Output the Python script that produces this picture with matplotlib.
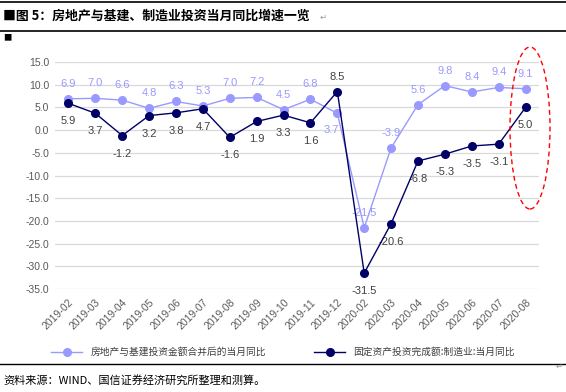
import numpy as np
import matplotlib as mpl
import matplotlib.pyplot as plt
from matplotlib.lines import Line2D
from matplotlib.patches import Ellipse

# 数据
months = ['2019-02', '2019-03', '2019-04', '2019-05', '2019-06', '2019-07', '2019-08', '2019-09',
          '2019-10', '2019-11', '2019-12', '2020-02', '2020-03', '2020-04', '2020-05', '2020-06',
          '2020-07', '2020-08']
realty_infra = [6.9, 7.0, 6.6, 4.8, 6.3, 5.3, 7.0, 7.2, 4.5, 6.8, 3.7, -21.5, -3.9, 5.6, 9.8, 8.4, 9.4, 9.1]
manufacturing = [5.9, 3.7, -1.2, 3.2, 3.8, 4.7, -1.6, 1.9, 3.3, 1.6, 8.5, -31.5, -20.6, -6.8, -5.3, -3.5, -3.1, 5.0]

name1 = '房地产与基建投资金额合并后的当月同比'
name2 = '固定资产投资完成额:制造业:当月同比'

light = '#9999ff'
dark = '#000066'

mpl.rcParams['font.family'] = ['Liberation Sans', 'Noto Sans CJK SC', 'DejaVu Sans']
cjk = ['Noto Sans CJK SC', 'DejaVu Sans']

W, H = 566, 392
fig = plt.figure(figsize=(W / 100, H / 100), dpi=100)

# 绘图区 (像素)
left, right, top, bottom = 55, 539, 62, 289
ax = fig.add_axes([left / W, 1 - bottom / H, (right - left) / W, (bottom - top) / H])

x = np.arange(len(months))
ax.plot(x, realty_infra, '-o', color=light, lw=1.0, ms=5.5, label=name1, zorder=3)
ax.plot(x, manufacturing, '-o', color=dark, lw=1.0, ms=5.5, label=name2, zorder=4)

ax.set_xlim(-0.5, len(months) - 0.5)
ax.set_ylim(-35, 15)
ax.set_yticks(np.arange(-35, 16, 5))
ax.set_yticklabels(['%.1f' % v for v in np.arange(-35, 16, 5)])
ax.set_xticks(x)
ax.set_xticklabels(months, rotation=45, ha='right', rotation_mode='anchor')
ax.tick_params(axis='both', length=0, labelsize=7.5, colors='#595959', pad=4)
ax.tick_params(axis='x', pad=6)
ax.grid(axis='y', color='#d9d9d9', lw=0.9)
ax.set_axisbelow(True)
for s in ax.spines.values():
    s.set_visible(False)

# 数据标签
light_below = {10}
for i, v in enumerate(realty_infra):
    dy = -17 if i in light_below else 15
    dx = -6 if i in light_below else 0
    ax.annotate('%.1f' % v, (x[i], v), xytext=(dx, dy), textcoords='offset pixels',
                ha='center', va='center', fontsize=8, color=light)
dark_above = {10}
for i, v in enumerate(manufacturing):
    dy = 15 if i in dark_above else -18
    ax.annotate('%.1f' % v, (x[i], v), xytext=(0, dy), textcoords='offset pixels',
                ha='center', va='center', fontsize=8, color='#404040')

# 红色虚线椭圆
fig.add_artist(Ellipse((530 / W, 1 - 128 / H), 40 / W, 162 / H, transform=fig.transFigure,
                       fill=False, ec='#ff0000', ls=(0, (3.5, 2.5)), lw=1.0))

# 图例
leg = fig.legend(loc='center', bbox_to_anchor=(0.5, 1 - 352 / H), ncol=2, frameon=False,
                 prop={'family': cjk, 'size': 7}, columnspacing=5, handlelength=3.2, handletextpad=0.8)
for t in leg.get_texts():
    t.set_color('#404040')

# 标题与分隔线
for yy, lw in [(2, 1.2), (31, 1.2), (364, 1.0)]:
    fig.add_artist(Line2D([0, 1], [1 - yy / H, 1 - yy / H], transform=fig.transFigure, color='black', lw=lw))
fig.text(3 / W, 1 - 16 / H, '■图 5：房地产与基建、制造业投资当月同比增速一览', family=cjk,
         fontsize=9.3, fontweight='bold', va='center', ha='left')
fig.text(320 / W, 1 - 17 / H, '↵', family=['DejaVu Sans'], fontsize=6, color='#999999', va='center')
fig.text(3 / W, 1 - 38 / H, '■', family=cjk, fontsize=6, va='center', ha='left')
fig.text(3 / W, 1 - 380 / H, '资料来源：WIND、国信证券经济研究所整理和测算。', family=cjk,
         fontsize=8, va='center', ha='left')
fig.text(556 / W, 1 - 366 / H, '↵', family=['DejaVu Sans'], fontsize=6, color='#999999', va='center')

fig.savefig('out.png', dpi=100)
